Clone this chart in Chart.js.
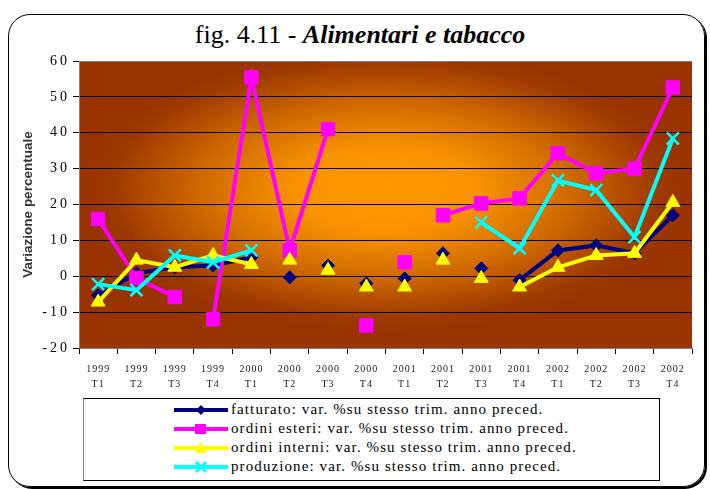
<!DOCTYPE html>
<html>
<head>
<meta charset="utf-8">
<script src="https://cdn.jsdelivr.net/npm/chart.js@4.4.1/dist/chart.umd.min.js"></script>
<style>
  body { margin: 0; background: #fff; }
  #wrap { position: relative; width: 710px; height: 489px; overflow: hidden; }
  #cornice { position: absolute; left: 8px; top: 14px; width: 695px; height: 471px;
    border: 1px solid #000; border-radius: 22px; box-shadow: 2px 2px 0 #000; }
  #titolo { position: absolute; top: 20px; left: 0; width: 720px; text-align: center;
    font-family: "Liberation Serif", serif; font-size: 26px; color: #000; }
  #titolo b { font-style: italic; }
  canvas { position: absolute; left: 0; top: 0; }
  #legenda { position: absolute; left: 83px; top: 398px; width: 577px; height: 83px;
    border: 1px solid #000; border-left-color: #888; background: #fff; box-sizing: border-box;
    padding-top: 1px; font-family: "Liberation Serif", serif; font-size: 15px; letter-spacing: 1.1px; }
  .riga { height: 19px; display: flex; align-items: center; padding-left: 90px; white-space: nowrap; }
  .riga svg { margin-right: 3px; }
</style>
</head>
<body>
<div id="wrap">
  <div id="cornice"></div>
  <div id="titolo">fig. 4.11 - <b>Alimentari e tabacco</b></div>
  <canvas id="grafico" width="710" height="489"></canvas>
  <div id="legenda"></div>
</div>
<script>
// trimestri
const periodi = [
  ["1999","T1"],["1999","T2"],["1999","T3"],["1999","T4"],
  ["2000","T1"],["2000","T2"],["2000","T3"],["2000","T4"],
  ["2001","T1"],["2001","T2"],["2001","T3"],["2001","T4"],
  ["2002","T1"],["2002","T2"],["2002","T3"],["2002","T4"]
]

// valori (var. % su stesso trim. anno preced.)
const fatturato = [-5.3, 0.8, 2.5, 3, 5.3, -0.3, 3, -2, -0.6, 6.4, 2.2, -1.1, 7.2, 8.6, 6.4, 17]
const ordiniEsteri = [16, -0.5, -5.8, -12, 55.4, 7.2, 41, -13.7, 3.9, 17, 20.3, 21.7, 34.3, 28.7, 30, 52.6]
const ordiniInterni = [-7.2, 4.5, 2.5, 5.8, 3.3, 4.5, 1.7, -3, -3, 4.5, -0.6, -3, 2.5, 5.8, 6.4, 20.6]
const produzione = [-2.2, -3.9, 5.8, 3.9, 7.2, null, null, null, null, null, 15, 7.8, 26.7, 24, 10.9, 38.4]

// tratti di linea effettivamente disegnati (indice del punto di partenza)
const fatturatoTratti = [0, 1, 2, 3, 11, 12, 13, 14]
const esteriTratti = [0, 1, 3, 4, 5, 9, 10, 11, 12, 13, 14]
const interniTratti = [0, 1, 2, 3, 11, 12, 13, 14]
const produzioneTratti = [0, 1, 2, 3, 10, 11, 12, 13, 14]

const tickY = [-20, -10, 0, 10, 20, 30, 40, 50, 60]

const suffisso = ": var. %su stesso trim. anno preced."

const serie = [
  { nome: "fatturato", dati: fatturato, tratti: fatturatoTratti, colore: "#000080", punto: "rectRot", r: 6.5, ordine: 3 },
  { nome: "ordini esteri", dati: ordiniEsteri, tratti: esteriTratti, colore: "#FF00FF", punto: "rect", r: 9.5, ordine: 2 },
  { nome: "ordini interni", dati: ordiniInterni, tratti: interniTratti, colore: "#FFFF00", punto: "triangle", r: 8, ordine: 1 },
  { nome: "produzione", dati: produzione, tratti: produzioneTratti, colore: "#00FFFF", punto: "crossRot", r: 8.5, ordine: 0 }
]

//* sfondo sfumato dell'area del grafico
const sfondo = {
  id: "sfondo",
  beforeDraw(chart) {
    const { ctx, chartArea: a } = chart
    ctx.save()
    ctx.beginPath()
    ctx.rect(a.left, a.top, a.width, a.height)
    ctx.clip()
    ctx.translate(a.left + a.width * 0.5, a.top + a.height * 0.45)
    ctx.scale(a.width / 2, a.height / 2)
    const g = ctx.createRadialGradient(0, 0, 0, 0, 0, 1)
    g.addColorStop(0, "#FF9900")
    g.addColorStop(0.3, "#F89200")
    g.addColorStop(0.6, "#D06A00")
    g.addColorStop(0.9, "#9C3800")
    g.addColorStop(1, "#993300")
    ctx.fillStyle = g
    ctx.fillRect(-3, -3, 6, 6)
    ctx.restore()
  }
}

//* spaziatura dei caratteri nelle etichette degli assi
const spaziatura = {
  id: "spaziatura",
  afterUpdate(chart) {
    const passi = { x: "1px", y: "3px" }
    Object.keys(passi).forEach(id => {
      const scala = chart.scales[id]
      if (scala._spaziato) return
      const orig = scala.drawLabels
      scala.drawLabels = function (area) {
        const ctx = this.ctx
        ctx.save()
        ctx.letterSpacing = passi[id]
        orig.call(this, area)
        ctx.restore()
      }
      scala._spaziato = true
    })
  }
}

const datasets = serie.map(s => ({
  label: s.nome + suffisso,
  data: s.dati,
  borderColor: s.colore,
  backgroundColor: s.colore,
  borderWidth: 4,
  pointStyle: s.punto,
  pointRadius: s.r,
  pointBorderWidth: s.punto === "crossRot" ? 2.5 : 1,
  pointBackgroundColor: s.colore,
  pointBorderColor: s.colore,
  order: s.ordine,
  tension: 0,
  spanGaps: false,
  segment: {
    borderColor: ctx => s.tratti.includes(ctx.p0DataIndex) ? s.colore : "rgba(0,0,0,0)"
  }
}))

const contenedor = document.querySelector("#grafico").getContext("2d")
const grafico = new Chart(contenedor, {
  type: "line",
  data: { labels: periodi, datasets: datasets },
  plugins: [sfondo, spaziatura],
  options: {
    responsive: false,
    animation: false,
    layout: { padding: { left: 0, right: 18, top: 61, bottom: 96 } },
    plugins: { legend: { display: false }, tooltip: { enabled: false } },
    scales: {
      x: {
        offset: true,
        afterFit: scale => { scale.height = 45 },
        grid: { offset: true, drawOnChartArea: false, drawTicks: true, tickLength: 6, color: "#000" },
        border: { color: "#808080", width: 1 },
        ticks: {
          autoSkip: false, maxRotation: 0, padding: 8, color: "#222",
          font: { family: "Liberation Serif", size: 10, lineHeight: 1.5 }
        }
      },
      y: {
        min: -20, max: 60,
        afterFit: scale => { scale.width = 79 },
        afterBuildTicks: scale => { scale.ticks = tickY.map(v => ({ value: v })) },
        grid: {
          color: c => (c.tick && (c.tick.value === 60 || c.tick.value === -20)) ? "#808080" : "#000",
          tickColor: "#000", tickLength: 6, lineWidth: 1
        },
        border: { color: "#808080", width: 1 },
        ticks: { padding: 3, color: "#000", font: { family: "Liberation Serif", size: 14 } },
        title: {
          display: true, text: "Variazione percentuale", color: "#333",
          align: "center",
          padding: { top: 20, bottom: 0 },
          font: { family: "Liberation Sans", size: 13.5, weight: "bold" }
        }
      }
    }
  }
})

//* legenda
function campione(s) {
  const c = s.colore
  let m = ""
  if (s.punto === "rectRot") m = `<polygon points="27,1 32,6 27,11 22,6" fill="${c}"/>`
  if (s.punto === "rect") m = `<rect x="21" y="1" width="11" height="10" fill="${c}"/>`
  if (s.punto === "triangle") m = `<polygon points="27,0 33,11 21,11" fill="${c}"/>`
  if (s.punto === "crossRot") m = `<path d="M22,1 L32,11 M32,1 L22,11" stroke="${c}" stroke-width="2.5"/>`
  return `<svg width="54" height="12"><line x1="0" y1="6" x2="54" y2="6" stroke="${c}" stroke-width="4"/>${m}</svg>`
}
document.querySelector("#legenda").innerHTML = serie
  .map(s => `<div class="riga">${campione(s)}<span>${s.nome}${suffisso}</span></div>`)
  .join("")
</script>
</body>
</html>
